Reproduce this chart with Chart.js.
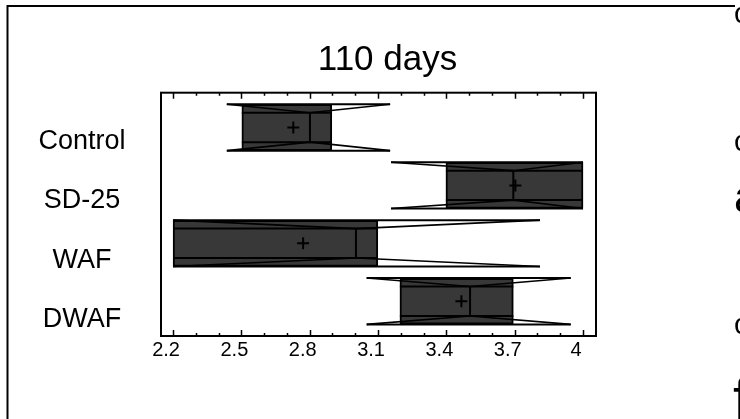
<!DOCTYPE html>
<html>
<head>
<meta charset="utf-8">
<script src="https://cdn.jsdelivr.net/npm/chart.js@4/dist/chart.umd.min.js"></script>
<style>
  html, body { margin: 0; padding: 0; background: #fff; }
  #wrap { width: 740px; height: 419px; }
</style>
</head>
<body>
<div id="wrap"><canvas id="c" width="740" height="419"></canvas></div>
<script>
// Groups (top to bottom)
const categories = ['Control', 'SD-25', 'WAF', 'DWAF'];

// Notched box summaries per group
const notchLow  = [2.436, 3.157, 2.20, 3.050];
const q1        = [2.502, 3.398, 2.20, 3.196];
const median    = [2.801, 3.694, 3.003, 3.504];
const q3        = [2.897, 4.000, 3.099, 3.694];
const notchHigh = [3.153, 4.000, 3.811, 3.946];
const means     = [2.728, 3.703, 2.771, 3.466];

// X axis tick values and labels
const tickValues = [2.2, 2.5, 2.8, 3.1, 3.4, 3.7, 4.0];
const tickLabels = ['2.2', '2.5', '2.8', '3.1', '3.4', '3.7', '4'];
const minorTicks = [2.2, 2.3, 2.4, 2.5, 2.6, 2.7, 2.8, 2.9, 3.0, 3.1, 3.2, 3.3, 3.4, 3.5, 3.6, 3.7, 3.8, 3.9, 4.0];

const FONT = '"Liberation Sans", Arial, Helvetica, sans-serif';
const BOX_FILL = '#383838';

// Outline, notches, median lines drawn over the box bars
const notchPlugin = {
  id: 'notches',
  afterDatasetDraw(chart, args) {
    if (args.meta.type !== 'bar') return;
    const ctx = chart.ctx, xs = chart.scales.x, ys = chart.scales.y;
    const unit = Math.abs(ys.getPixelForValue(1) - ys.getPixelForValue(0));
    const H = unit * 0.4, h = unit * 0.254;
    const a = chart.chartArea;
    ctx.save();
    ctx.beginPath();
    ctx.rect(a.left, a.top, a.right - a.left, a.bottom - a.top);
    ctx.clip();
    ctx.strokeStyle = '#000';
    ctx.lineCap = 'butt';
    categories.forEach((c, i) => {
      const yc = ys.getPixelForValue(i);
      const pL = xs.getPixelForValue(notchLow[i]);
      const p1 = xs.getPixelForValue(q1[i]);
      const pM = xs.getPixelForValue(median[i]);
      const p3 = xs.getPixelForValue(q3[i]);
      const pH = xs.getPixelForValue(notchHigh[i]);
      const left = Math.min(pL, p1), right = Math.max(pH, p3);
      // outer envelope
      ctx.lineWidth = 2;
      ctx.beginPath();
      ctx.moveTo(left, yc - H); ctx.lineTo(right, yc - H);
      ctx.moveTo(left, yc + H); ctx.lineTo(right, yc + H);
      // inner band
      ctx.moveTo(p1, yc - h); ctx.lineTo(p3, yc - h);
      ctx.moveTo(p1, yc + h); ctx.lineTo(p3, yc + h);
      // median
      ctx.moveTo(pM, yc - h); ctx.lineTo(pM, yc + h);
      ctx.stroke();
      // notch lines
      ctx.lineWidth = 1.6;
      ctx.beginPath();
      ctx.moveTo(pL, yc - H); ctx.lineTo(pM, yc - h); ctx.lineTo(pH, yc - H);
      ctx.moveTo(pL, yc + H); ctx.lineTo(pM, yc + h); ctx.lineTo(pH, yc + H);
      ctx.stroke();
    });
    ctx.restore();
  }
};

// Page frame, plot border, inward tick marks, and clipped neighbouring text
const framePlugin = {
  id: 'frame',
  beforeDraw(chart) {
    const ctx = chart.ctx;
    ctx.save();
    ctx.fillStyle = '#fff';
    ctx.fillRect(0, 0, chart.width, chart.height);
    ctx.strokeStyle = '#000';
    ctx.lineWidth = 2;
    ctx.beginPath();
    ctx.moveTo(7.5, 425); ctx.lineTo(7.5, 6); ctx.lineTo(735, 6);
    ctx.stroke();
    ctx.fillStyle = '#000';
    ctx.textBaseline = 'alphabetic';
    ctx.textAlign = 'left';
    ctx.font = '29px ' + FONT;
    ctx.fillText('c', 734, 23);
    ctx.fillText('c', 734, 151);
    ctx.fillText('c', 734, 334);
    ctx.font = '44px ' + FONT;
    ctx.fillText('a', 734, 212);
    ctx.font = '60px ' + FONT;
    ctx.fillText('f', 733, 419);
    ctx.restore();
  },
  afterDraw(chart) {
    const ctx = chart.ctx, a = chart.chartArea, xs = chart.scales.x;
    ctx.save();
    ctx.strokeStyle = '#000';
    ctx.lineWidth = 2;
    ctx.strokeRect(a.left, a.top, a.right - a.left, a.bottom - a.top);
    ctx.lineWidth = 1.5;
    ctx.beginPath();
    minorTicks.forEach(v => {
      const px = Math.round(xs.getPixelForValue(v)) + 0.5;
      const major = tickValues.some(t => Math.abs(t - v) < 1e-6);
      const len = major ? 6 : 3;
      ctx.moveTo(px, a.bottom); ctx.lineTo(px, a.bottom - len);
      ctx.moveTo(px, a.top); ctx.lineTo(px, a.top + len);
    });
    ctx.stroke();
    ctx.restore();
  }
};

const boxData = categories.map((c, i) => ({ x: [q1[i], q3[i]], y: i }));
const meanData = categories.map((c, i) => ({ x: means[i], y: i }));

new Chart(document.getElementById('c'), {
  type: 'bar',
  data: {
    datasets: [
      {
        type: 'scatter',
        label: 'Mean',
        data: meanData,
        xAxisID: 'x',
        yAxisID: 'y',
        pointStyle: 'cross',
        pointRadius: 6,
        pointBorderWidth: 2,
        borderColor: '#000',
        backgroundColor: '#000',
        order: 1
      },
      {
        type: 'bar',
        label: 'Box',
        data: boxData,
        xAxisID: 'x',
        yAxisID: 'y',
        backgroundColor: BOX_FILL,
        borderColor: '#000',
        borderWidth: 2,
        borderSkipped: false,
        barThickness: 46,
        order: 2
      }
    ]
  },
  options: {
    indexAxis: 'y',
    responsive: false,
    animation: false,
    events: [],
    layout: { padding: { left: 35, right: 0, top: 0, bottom: 0 } },
    plugins: {
      legend: { display: false },
      tooltip: { enabled: false },
      title: {
        display: true,
        text: '110 days',
        color: '#000',
        font: { family: FONT, size: 35, weight: 'normal' },
        padding: { top: 39, bottom: 11.7 }
      }
    },
    scales: {
      x: {
        type: 'linear',
        position: 'bottom',
        min: 2.147,
        max: 4.057,
        offset: false,
        grid: { display: false, drawTicks: false },
        border: { display: false },
        afterBuildTicks: s => { s.ticks = tickValues.map(v => ({ value: v })); },
        afterFit: s => { s.height = 83; },
        ticks: {
          autoSkip: false,
          maxRotation: 0,
          padding: 2,
          labelOffset: -7,
          color: '#000',
          font: { family: FONT, size: 20 },
          callback: (v, i) => tickLabels[i]
        }
      },
      y: {
        type: 'linear',
        display: false,
        offset: false,
        min: -0.6,
        max: 3.6,
        reverse: true
      },
      yl: {
        type: 'linear',
        position: 'left',
        offset: false,
        min: -0.83,
        max: 3.28,
        reverse: true,
        grid: { display: false, drawTicks: false, offset: false },
        border: { display: false },
        afterBuildTicks: s => { s.ticks = categories.map((c, i) => ({ value: i })); },
        afterFit: s => { s.width = 126; },
        ticks: {
          crossAlign: 'center',
          padding: 35.5,
          color: '#000',
          font: { family: FONT, size: 27 },
          callback: (v, i) => categories[i]
        }
      },
      yr: {
        type: 'linear',
        position: 'right',
        offset: false,
        grid: { display: false, drawTicks: false, offset: false },
        border: { display: false },
        ticks: { display: false },
        afterFit: s => { s.width = 144; }
      }
    }
  },
  plugins: [notchPlugin, framePlugin]
});
</script>
</body>
</html>
